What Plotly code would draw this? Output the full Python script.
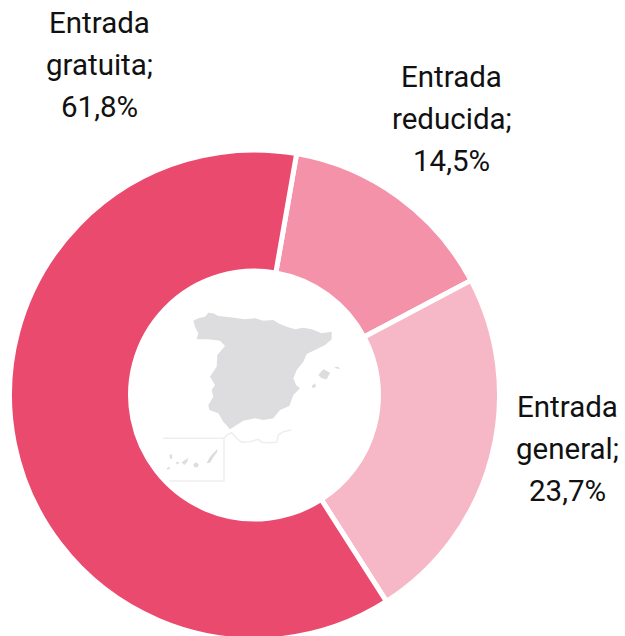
import plotly.graph_objects as go

# Data
categories = ["Entrada reducida", "Entrada general", "Entrada gratuita"]
values = [14.5, 23.7, 61.8]
colors = ["#F392A8", "#F6B7C6", "#EA4A6E"]

W, H = 625, 640  # the lowest pixels of the ring fall below the 636 px window
FONT = "Roboto"
FONT_SIZE = 29.5
LINE_GAP = 42

# Label layout (centre x, first baseline y) in page pixels
label_pos = {
    "Entrada reducida": (452, 87),
    "Entrada general": (567, 417),
    "Entrada gratuita": (99, 33),
}

# Decorative locator map, traced in a 3x crop with origin (130, 280)
MAP_FILL = "#DDDCDE"
MAP_LINE = "#EEEEEE"
mainland = [(190,122),(205,115),(225,110),(235,98),(250,100),(265,108),(300,112),(345,118),(375,115),
            (400,122),(430,120),(445,130),(470,140),(495,148),(520,143),(545,148),(575,160),(605,155),
            (605,178),(585,195),(555,210),(530,222),(520,245),(500,270),(490,295),(498,315),(510,325),
            (490,345),(478,378),(450,390),(430,415),(400,420),(375,415),(340,422),(320,435),(300,448),
            (280,425),(265,400),(238,390),(235,375),(250,350),(245,330),(255,315),(240,290),(260,260),
            (262,225),(285,198),(270,182),(235,178),(200,178),(205,160),(195,140)]
islands = [
    [(565,285),(580,268),(600,278),(590,298),(575,295)],
    [(612,262),(625,260),(630,268),(618,265)],
    [(545,318),(555,310),(558,320),(548,325)],
    [(230,550),(240,530),(262,507),(262,515),(248,535),(240,548)],
    [(190,553),(198,547),(206,553),(204,562),(193,562)],
    [(155,547),(175,533),(172,545),(163,555)],
    [(138,547),(146,545),(146,552),(140,553)],
    [(118,525),(125,522),(127,535),(120,537)],
    [(110,565),(118,560),(120,566),(112,569)],
]
box_line = [(100,475),(282,475),(282,603),(118,603)]
coast_line = [(282,475),(290,465),(305,458),(320,475),(335,487),(360,485),(385,478),(395,487),
              (420,488),(440,487),(445,465),(460,455),(485,450)]


def to_paper(p):
    return 130 + p[0] / 3, 280 + p[1] / 3


def path(points, close):
    parts = []
    for i, p in enumerate(points):
        x, y = to_paper(p)
        parts.append(f"{'M' if i == 0 else 'L'} {x / W:.5f} {1 - y / H:.5f}")
    return " ".join(parts) + (" Z" if close else "")


shapes = []
for poly in [mainland] + islands:
    shapes.append(dict(type="path", xref="paper", yref="paper", path=path(poly, True),
                       fillcolor=MAP_FILL, line=dict(width=0)))
for poly in [box_line, coast_line]:
    shapes.append(dict(type="path", xref="paper", yref="paper", path=path(poly, False),
                       line=dict(color=MAP_LINE, width=1.5)))

annotations = []
for cat, val in zip(categories, values):
    first, second = cat.split(" ")
    lines = [first, second + ";", f"{val:.1f}".replace(".", ",") + "%"]
    cx, base = label_pos[cat]
    for i, line in enumerate(lines):
        cy = base + i * LINE_GAP - 0.35 * FONT_SIZE
        annotations.append(dict(text=line, x=cx / W, y=1 - cy / H, xref="paper", yref="paper",
                                xanchor="center", yanchor="middle", showarrow=False,
                                font=dict(family=FONT, size=FONT_SIZE, color="#111111")))

fig = go.Figure(go.Pie(
    labels=categories, values=values, sort=False, direction="clockwise", rotation=9.9,
    hole=0.506, textinfo="none", showlegend=False,
    marker=dict(colors=colors, line=dict(color="white", width=5)),
    domain=dict(x=[9.5 / W, 499.5 / W], y=[0, 1 - 150 / H]),
))
fig.update_layout(width=W, height=H, margin=dict(l=0, r=0, t=0, b=0),
                  paper_bgcolor="white", shapes=shapes, annotations=annotations)
fig.write_html("out.html", config={"displayModeBar": False}, post_script=(
    "document.documentElement.style.overflow='hidden';"
    "document.body.style.margin='0';document.body.style.overflow='hidden';"
))
